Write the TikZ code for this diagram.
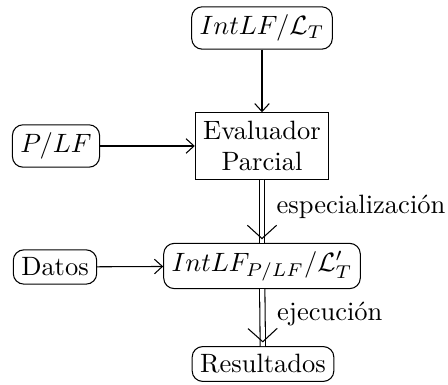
\documentclass[tikz,border=0pt]{standalone}
\usetikzlibrary{arrows.meta,decorations.markings}
\begin{document}
\begin{tikzpicture}[x=0.3774pt,y=-0.3774pt,
  rbox/.style={draw,rounded corners=4pt,inner sep=3pt},
  sbox/.style={draw,inner sep=3pt,align=center},
  sarrow/.style={-{Straight Barb[length=3pt,width=5.5pt]}},
  darrow/.style={double,double distance=1.6pt,
    postaction={decorate,decoration={markings,
      mark=at position 1 with {\arrow{Straight Barb[length=5pt,width=11pt]}}}}},
  lbl/.style={anchor=west,xshift=2pt,yshift=1.5pt}]
\useasboundingbox (0,0) rectangle (448,385);
\node[rbox] (top) at (262,28) {$IntLF/\mathcal{L}_T$};
\node[sbox] (eval) at (262,146) {Evaluador\\Parcial};
\node[rbox] (plf) at (56,146) {$P/LF$};
\node[rbox] (int2) at (262,266) {$IntLF_{P/LF}/\mathcal{L}'_T$};
\node[rbox] (datos) at (55,267) {Datos};
\node[rbox] (res) at (263,364) {Resultados};
\draw[sarrow] (top) -- (eval);
\draw[sarrow] (plf) -- (eval);
\draw[sarrow] (datos) -- (int2);
\draw[darrow] (eval) -- node[lbl] {especialización} (int2);
\draw[darrow] (int2) -- node[lbl] {ejecución} (res);
\end{tikzpicture}
\end{document}
